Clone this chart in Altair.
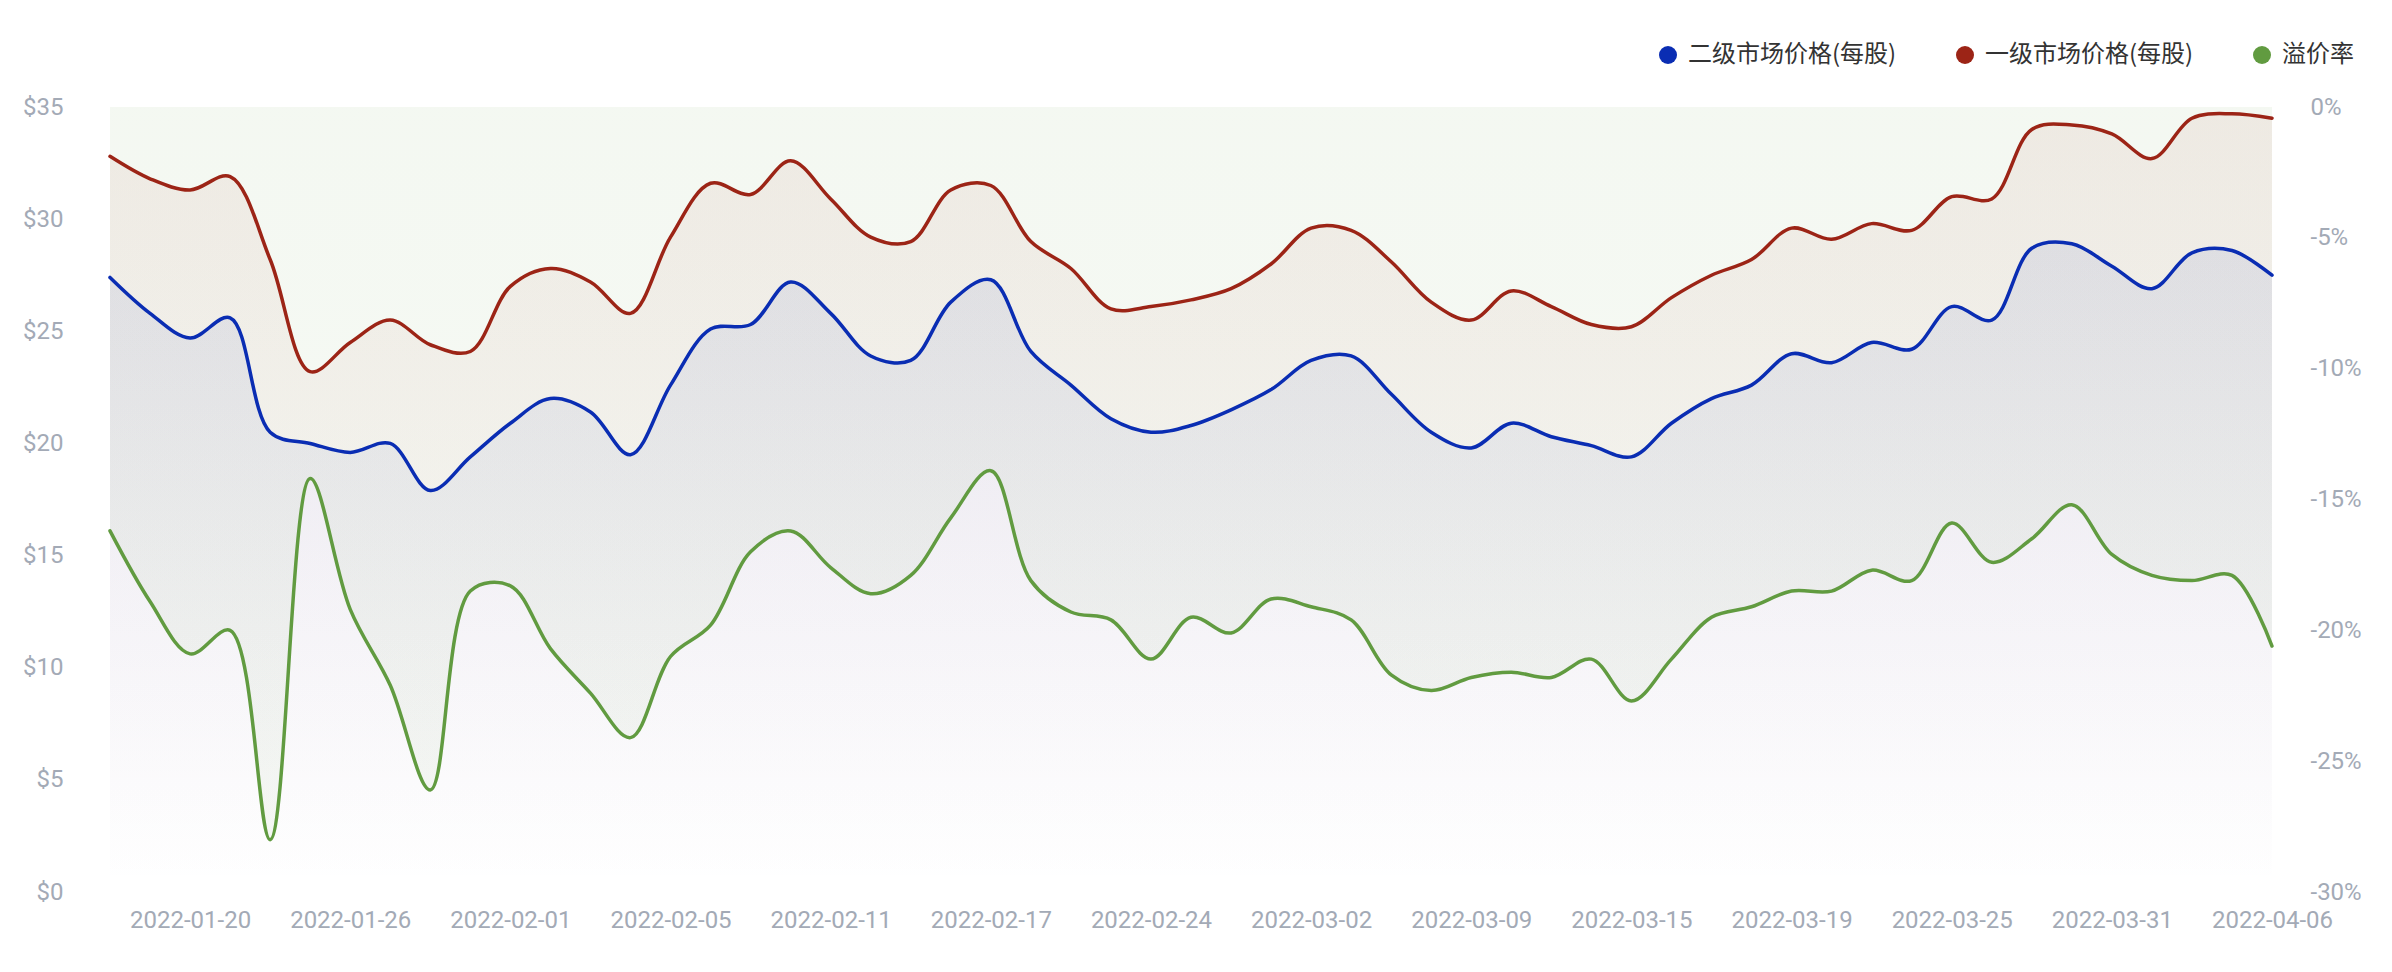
import altair as alt
import pandas as pd

# ---- data ----
dates = [
    "2022-01-17", "2022-01-18", "2022-01-20", "2022-01-21", "2022-01-23", "2022-01-24",
    "2022-01-26", "2022-01-27", "2022-01-29", "2022-01-30", "2022-02-01", "2022-02-02",
    "2022-02-03", "2022-02-04", "2022-02-05", "2022-02-07", "2022-02-08", "2022-02-10",
    "2022-02-11", "2022-02-13", "2022-02-14", "2022-02-16", "2022-02-17", "2022-02-19",
    "2022-02-21", "2022-02-22", "2022-02-24", "2022-02-25", "2022-02-27", "2022-02-28",
    "2022-03-02", "2022-03-04", "2022-03-05", "2022-03-07", "2022-03-09", "2022-03-10",
    "2022-03-12", "2022-03-13", "2022-03-15", "2022-03-16", "2022-03-17", "2022-03-18",
    "2022-03-19", "2022-03-21", "2022-03-22", "2022-03-24", "2022-03-25", "2022-03-27",
    "2022-03-28", "2022-03-30", "2022-03-31", "2022-04-02", "2022-04-03", "2022-04-05",
    "2022-04-06",
]

# 一级市场价格(每股)
primary = [
    32.8, 31.8, 31.3, 31.9, 28.2, 23.2, 24.5, 25.5, 24.4, 24.1,
    27.0, 27.8, 27.2, 25.8, 29.2, 31.6, 31.1, 32.6, 30.9, 29.2,
    29.0, 31.3, 31.5, 29.0, 27.8, 26.0, 26.1, 26.4, 26.9, 28.0,
    29.6, 29.5, 28.1, 26.3, 25.5, 26.8, 26.1, 25.3, 25.2, 26.5,
    27.5, 28.2, 29.6, 29.1, 29.8, 29.5, 31.0, 30.9, 34.0, 34.2,
    33.8, 32.7, 34.5, 34.7, 34.5,
]

# 二级市场价格(每股)
secondary = [
    27.4, 25.8, 24.7, 25.6, 20.5, 20.0, 19.6, 20.0, 17.9, 19.4,
    20.9, 22.0, 21.4, 19.5, 22.6, 25.1, 25.3, 27.2, 25.8, 23.9,
    23.7, 26.3, 27.3, 24.1, 22.6, 21.1, 20.5, 20.8, 21.5, 22.4,
    23.7, 23.9, 22.2, 20.5, 19.8, 20.9, 20.3, 19.9, 19.4, 20.9,
    22.0, 22.6, 24.0, 23.6, 24.5, 24.2, 26.1, 25.5, 28.7, 28.9,
    27.9, 26.9, 28.5, 28.6, 27.5,
]

# 溢价率 (%)
premium = [
    -16.2, -18.9, -20.9, -20.0, -28.0, -14.2, -19.2, -22.1, -26.1, -18.5,
    -18.3, -20.7, -22.4, -24.1, -21.0, -19.8, -17.0, -16.2, -17.6, -18.6,
    -17.9, -15.7, -13.9, -18.1, -19.3, -19.6, -21.1, -19.5, -20.1, -18.8,
    -19.1, -19.6, -21.7, -22.3, -21.8, -21.6, -21.8, -21.1, -22.7, -21.1,
    -19.5, -19.1, -18.5, -18.5, -17.7, -18.1, -15.9, -17.4, -16.5, -15.2,
    -17.1, -17.9, -18.1, -17.9, -20.6,
]

label_dates = [
    "2022-01-20", "2022-01-26", "2022-02-01", "2022-02-05", "2022-02-11", "2022-02-17",
    "2022-02-24", "2022-03-02", "2022-03-09", "2022-03-15", "2022-03-19", "2022-03-25",
    "2022-03-31", "2022-04-06",
]
price_ticks = [0, 5, 10, 15, 20, 25, 30, 35]
pct_ticks = [-30, -25, -20, -15, -10, -5, 0]

series_keys = ["secondary", "primary", "premium"]
series_names = ["二级市场价格(每股)", "一级市场价格(每股)", "溢价率"]

df = pd.DataFrame({
    "date": dates,
    "secondary": secondary,
    "primary": primary,
    "premium": premium,
})

# ---- style ----
BLUE = "#0a2db3"
RED = "#9c2416"
GREEN = "#619b40"
GRAY = "#a3aab6"
W, H = 2162, 785
LW = 3.5


def grad(rgb, a0, a1):
    r, g, b = rgb
    return alt.Gradient(
        gradient="linear",
        stops=[
            alt.GradientStop(offset=0, color=f"rgba({r},{g},{b},{a0})"),
            alt.GradientStop(offset=1, color=f"rgba({r},{g},{b},{a1})"),
        ],
        x1=0, x2=0, y1=0, y2=1,
    )


x_enc = alt.X(
    "date:O",
    scale=alt.Scale(type="point", padding=0),
    axis=alt.Axis(
        values=label_dates, labelAngle=0, ticks=False, domain=False, grid=False,
        labelFont="Roboto", labelFontSize=24, labelColor=GRAY, labelPadding=16,
        title=None,
    ),
)

price_scale = alt.Scale(domain=[0, 35], nice=False, zero=False)
pct_scale = alt.Scale(domain=[-30, 0], nice=False, zero=False)

base = alt.Chart(df)

# green area: from premium line up to 0%
green_area = base.mark_area(
    interpolate="catmull-rom", fill=grad((97, 155, 64), 0.07, 0.05), line=False
).encode(
    x=x_enc,
    y=alt.Y("premium:Q", scale=pct_scale, axis=None),
    y2=alt.datum(0),
)

red_area = base.mark_area(
    interpolate="catmull-rom", fill=grad((156, 36, 22), 0.065, 0.0)
).encode(
    x=x_enc,
    y=alt.Y(
        "primary:Q", scale=price_scale,
        axis=alt.Axis(
            values=price_ticks, labelExpr="'$' + datum.value", orient="left",
            ticks=False, domain=False, grid=False, labelFont="Roboto",
            labelFontSize=24, labelColor=GRAY, labelPadding=47, title=None,
        ),
    ),
    y2=alt.datum(0),
)

blue_area = base.mark_area(
    interpolate="catmull-rom", fill=grad((10, 45, 179), 0.075, 0.0)
).encode(
    x=x_enc,
    y=alt.Y("secondary:Q", scale=price_scale),
    y2=alt.datum(0),
)

red_line = base.mark_line(
    interpolate="catmull-rom", color=RED, strokeWidth=LW, strokeCap="round"
).encode(x=x_enc, y=alt.Y("primary:Q", scale=price_scale))

blue_line = base.mark_line(
    interpolate="catmull-rom", color=BLUE, strokeWidth=LW, strokeCap="round"
).encode(x=x_enc, y=alt.Y("secondary:Q", scale=price_scale))

label_expr = (
    f"datum.label == '{series_keys[0]}' ? '{series_names[0]}' : "
    f"datum.label == '{series_keys[1]}' ? '{series_names[1]}' : '{series_names[2]}'"
)

legend_pts = base.transform_fold(
    ["secondary", "primary"], as_=["series", "val"]
).mark_circle(size=0, opacity=1).encode(
    x=x_enc,
    y=alt.Y("val:Q", scale=price_scale),
    color=alt.Color(
        "series:N",
        scale=alt.Scale(domain=series_keys, range=[BLUE, RED, GREEN]),
        legend=alt.Legend(
            orient="none", legendX=1546, legendY=-64, direction="horizontal",
            columns=3, title=None, symbolType="circle", symbolSize=324,
            symbolStrokeWidth=0, labelFont="Noto Sans CJK SC", labelFontSize=24,
            labelColor="#333333", labelOffset=8, columnPadding=56, padding=0,
            labelExpr=label_expr, labelLimit=400,
        ),
    ),
)

price_layer = alt.layer(red_area, blue_area, red_line, blue_line, legend_pts)

green_line = base.mark_line(
    interpolate="catmull-rom", color=GREEN, strokeWidth=LW, strokeCap="round"
).encode(
    x=x_enc,
    y=alt.Y(
        "premium:Q", scale=pct_scale,
        axis=alt.Axis(
            values=pct_ticks, labelExpr="datum.value + '%'", orient="right",
            ticks=False, domain=False, grid=False, labelFont="Roboto",
            labelFontSize=24, labelColor=GRAY, labelPadding=38, labelAlign="left",
            title=None,
        ),
    ),
)

chart = alt.layer(green_area, price_layer, green_line).resolve_scale(
    y="independent"
).properties(
    width=W, height=H,
    padding={"left": 102, "top": 99, "right": 100, "bottom": 60},
    autosize=alt.AutoSizeParams(type="none"),
    background="white",
).configure_view(stroke=None)

chart.save("out.html", embed_options={"renderer": "svg", "actions": False})
